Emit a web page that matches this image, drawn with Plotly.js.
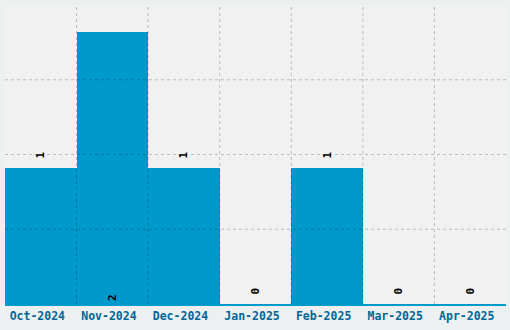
<!DOCTYPE html>
<html>
<head>
<meta charset="utf-8">
<script src="https://cdn.plot.ly/plotly-3.0.1.min.js"></script>
<style>html,body{margin:0;padding:0;background:#edf0f1;}#chart{width:510px;height:330px;}</style>
</head>
<body>
<div id="chart"></div>
<script>
const months = ["Oct-2024","Nov-2024","Dec-2024","Jan-2025","Feb-2025","Mar-2025","Apr-2025"];
const counts = [1, 2, 1, 0, 1, 0, 0];
const labelPositions = ["outside","inside","outside","outside","outside","outside","outside"];

const yMax = 2.2;
const gridStyle = {color: "rgba(0,0,0,0.22)", width: 1, dash: "dot"};
const shapes = [];
for (let i = 0; i < months.length - 1; i++) {
  shapes.push({type: "line", layer: "above", xref: "x", yref: "paper", x0: i + 0.5, x1: i + 0.5, y0: 0, y1: 1, line: gridStyle});
}
for (let k = 1; k < 4; k++) {
  shapes.push({type: "line", layer: "above", xref: "paper", yref: "y", x0: 0, x1: 1, y0: yMax * k / 4, y1: yMax * k / 4, line: gridStyle});
}

const barText = counts.map((v, i) => labelPositions[i] === "outside" ? "\u2002" + v : String(v));

const trace = {
  type: "bar",
  x: months,
  y: counts,
  marker: {color: "#0099cc", line: {width: 0}},
  text: barText,
  textposition: labelPositions,
  insidetextanchor: "start",
  textangle: -90,
  cliponaxis: false,
  textfont: {family: "DejaVu Sans Mono", size: 11, color: "#000", weight: "bold"},
  insidetextfont: {family: "DejaVu Sans Mono", size: 11, color: "#000", weight: "bold"},
  outsidetextfont: {family: "DejaVu Sans Mono", size: 11, color: "#000", weight: "bold"},
  hoverinfo: "none"
};

const layout = {
  width: 510, height: 330,
  margin: {l: 5, r: 4, t: 5, b: 26, pad: 0},
  paper_bgcolor: "#edf0f1",
  plot_bgcolor: "#f1f1f1",
  bargap: 0,
  showlegend: false,
  xaxis: {
    type: "category",
    showgrid: false,
    showline: true, linecolor: "#0099cc", linewidth: 2,
    ticks: "",
    tickmode: "array",
    tickvals: months,
    ticktext: months.map(m => m + "\u00a0"),
    tickfont: {family: "DejaVu Sans Mono", size: 11.5, color: "#006699", weight: "bold"},
    zeroline: false,
    fixedrange: true
  },
  yaxis: {
    range: [0, yMax],
    showgrid: false,
    showticklabels: false,
    zeroline: false,
    ticks: "",
    fixedrange: true
  },
  shapes: shapes
};

Plotly.newPlot("chart", [trace], layout, {displayModeBar: false, staticPlot: true});
</script>
</body>
</html>
